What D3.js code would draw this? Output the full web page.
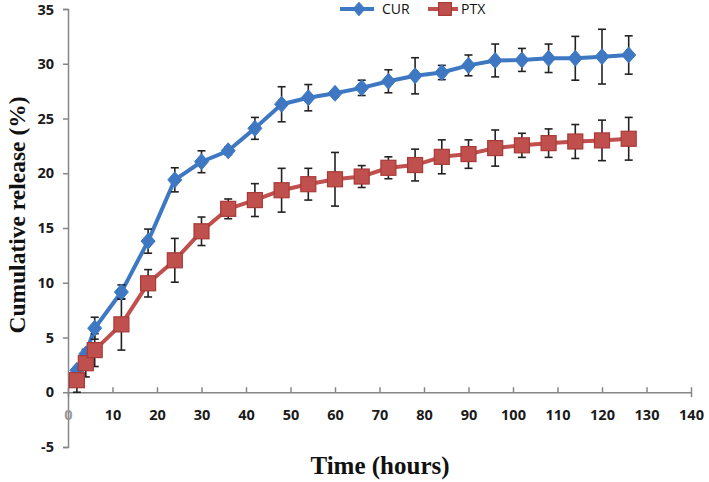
<!DOCTYPE html>
<html>
<head>
<meta charset="utf-8">
<script src="https://cdn.jsdelivr.net/npm/d3@7"></script>
<style>
  html, body { margin: 0; padding: 0; background: #fff; }
  svg { display: block; }
</style>
</head>
<body>
<svg id="chart" width="709" height="482"></svg>
<script>
const timesCUR = [2, 4, 6, 12, 18, 24, 30, 36, 42, 48, 54, 60, 66, 72, 78, 84, 90, 96, 102, 108, 114, 120, 126];
const valuesCUR = [2.0, 3.5, 5.85, 9.15, 13.8, 19.4, 21.05, 22.05, 24.1, 26.3, 26.9, 27.3, 27.8, 28.4, 28.9, 29.2, 29.85, 30.3, 30.35, 30.5, 30.5, 30.65, 30.8];
const errorsCUR = [0.3, 0.4, 1.0, 0.65, 1.1, 1.1, 1.0, 0.35, 1.0, 1.6, 1.2, 0.3, 0.7, 1.05, 1.65, 0.65, 0.95, 1.5, 1.05, 1.3, 2.0, 2.5, 1.75];

const timesPTX = [2, 4, 6, 12, 18, 24, 30, 36, 42, 48, 54, 60, 66, 72, 78, 84, 90, 96, 102, 108, 114, 120, 126];
const valuesPTX = [1.1, 2.65, 3.85, 6.2, 9.95, 12.05, 14.7, 16.75, 17.55, 18.45, 19.0, 19.45, 19.7, 20.5, 20.75, 21.5, 21.75, 22.3, 22.55, 22.75, 22.9, 23.0, 23.15];
const errorsPTX = [1.1, 1.25, 1.5, 2.35, 1.25, 2.0, 1.3, 0.9, 1.5, 2.0, 1.45, 2.45, 1.0, 1.0, 1.45, 1.55, 1.3, 1.65, 1.1, 1.3, 1.55, 1.85, 1.95];

const xTicks = [0, 10, 20, 30, 40, 50, 60, 70, 80, 90, 100, 110, 120, 130, 140];
const yTicks = [-5, 0, 5, 10, 15, 20, 25, 30, 35];
const seriesNames = ["CUR", "PTX"];
const xTitle = "Time (hours)";
const yTitle = "Cumulative release (%)";

const svg = d3.select("#chart");
const x = d3.scaleLinear().domain([0, 140]).range([68, 691]);
const y = d3.scaleLinear().domain([-5, 35]).range([447, 9]);

const axisColor = "#868686";
const tickFont = "'Open Sans', 'Liberation Sans', Arial, sans-serif";
const fmt = d => String(d);

// Y axis
const yAxis = svg.append("g").attr("transform", `translate(${x(0)},0)`)
  .call(d3.axisLeft(y).tickValues(yTicks).tickSize(5).tickPadding(9).tickFormat(fmt));
yAxis.select(".domain").attr("stroke", axisColor).attr("stroke-width", 1.5);
yAxis.selectAll(".tick line").attr("stroke", axisColor).attr("stroke-width", 1.5);
yAxis.selectAll(".tick text").attr("font-family", tickFont).attr("font-weight", "bold")
  .attr("font-size", 14.5).attr("fill", "#1a1a1a");
yAxis.selectAll(".tick").filter(d => d === 35).select("text").attr("dy", "0.4em");

// X axis at y=0
const xAxis = svg.append("g").attr("transform", `translate(0,${y(0)})`)
  .call(d3.axisBottom(x).tickValues(xTicks).tickSize(5).tickPadding(12).tickFormat(fmt));
xAxis.select(".domain").attr("stroke", axisColor).attr("stroke-width", 1.5);
xAxis.selectAll(".tick line").attr("stroke", axisColor).attr("stroke-width", 1.5).attr("y1", -5).attr("y2", 0);
xAxis.selectAll(".tick text").attr("font-family", tickFont).attr("font-weight", "bold")
  .attr("font-size", 14.5).attr("fill", "#1a1a1a");
xAxis.selectAll(".tick").filter(d => d === 0).select("text").attr("fill", "#9a9a9a");

// Titles
svg.append("text").attr("x", 380).attr("y", 474).attr("text-anchor", "middle")
  .attr("font-family", "'Liberation Serif', 'Times New Roman', serif").attr("font-weight", "bold")
  .attr("font-size", 25).attr("fill", "#111").text(xTitle);
svg.append("text").attr("transform", "translate(25,215) rotate(-90)").attr("text-anchor", "middle")
  .attr("font-family", "'Liberation Serif', 'Times New Roman', serif").attr("font-weight", "bold")
  .attr("font-size", 23.5).attr("fill", "#111").text(yTitle);

const series = [
  { name: seriesNames[0], t: timesCUR, v: valuesCUR, e: errorsCUR, color: "#3f78c2", stroke: "#3f78c2", shape: "diamond" },
  { name: seriesNames[1], t: timesPTX, v: valuesPTX, e: errorsPTX, color: "#c0504d", stroke: "#a83a37", shape: "square" }
];

const line = d3.line().x(d => x(d[0])).y(d => y(d[1]));

function drawMarker(g, shape, cx, cy, s, k) {
  k = k || 1;
  if (shape === "diamond") {
    g.append("path").attr("d", `M${cx},${cy - 8 * k}L${cx + 7 * k},${cy}L${cx},${cy + 8 * k}L${cx - 7 * k},${cy}Z`)
      .attr("fill", s.color).attr("stroke", s.stroke).attr("stroke-width", 1);
  } else {
    const h = 7.5 * k;
    g.append("rect").attr("x", cx - h).attr("y", cy - h).attr("width", 2 * h).attr("height", 2 * h)
      .attr("fill", s.color).attr("stroke", s.stroke).attr("stroke-width", 1.2);
  }
}

// lines first
series.forEach(s => {
  const pts = s.t.map((t, i) => [t, s.v[i]]);
  svg.append("path").datum(pts).attr("d", line).attr("fill", "none")
    .attr("stroke", s.color).attr("stroke-width", 4).attr("stroke-linejoin", "round");
});

// error bars
series.forEach(s => {
  const g = svg.append("g").attr("stroke", "#222").attr("stroke-width", 1.6);
  s.t.forEach((t, i) => {
    const cx = x(t), y1 = y(s.v[i] + s.e[i]), y2 = y(s.v[i] - s.e[i]);
    g.append("line").attr("x1", cx).attr("x2", cx).attr("y1", y1).attr("y2", y2);
    g.append("line").attr("x1", cx - 4).attr("x2", cx + 4).attr("y1", y1).attr("y2", y1);
    g.append("line").attr("x1", cx - 4).attr("x2", cx + 4).attr("y1", y2).attr("y2", y2);
  });
});

// markers
series.forEach(s => {
  const g = svg.append("g");
  s.t.forEach((t, i) => drawMarker(g, s.shape, x(t), y(s.v[i]), s));
});

// legend
const legendItems = [
  { s: series[0], x0: 340, x1: 374, tx: 382 },
  { s: series[1], x0: 428, x1: 458, tx: 461 }
];
legendItems.forEach(li => {
  const ly = 9;
  svg.append("line").attr("x1", li.x0).attr("x2", li.x1).attr("y1", ly).attr("y2", ly)
    .attr("stroke", li.s.color).attr("stroke-width", 4);
  const g = svg.append("g");
  drawMarker(g, li.s.shape, (li.x0 + li.x1) / 2 + 2, ly, li.s, 0.85);
  svg.append("text").attr("x", li.tx).attr("y", ly).attr("dy", "0.36em").attr("font-family", tickFont)
    .attr("font-size", 14).attr("fill", "#111").text(li.s.name);
});
</script>
</body>
</html>
